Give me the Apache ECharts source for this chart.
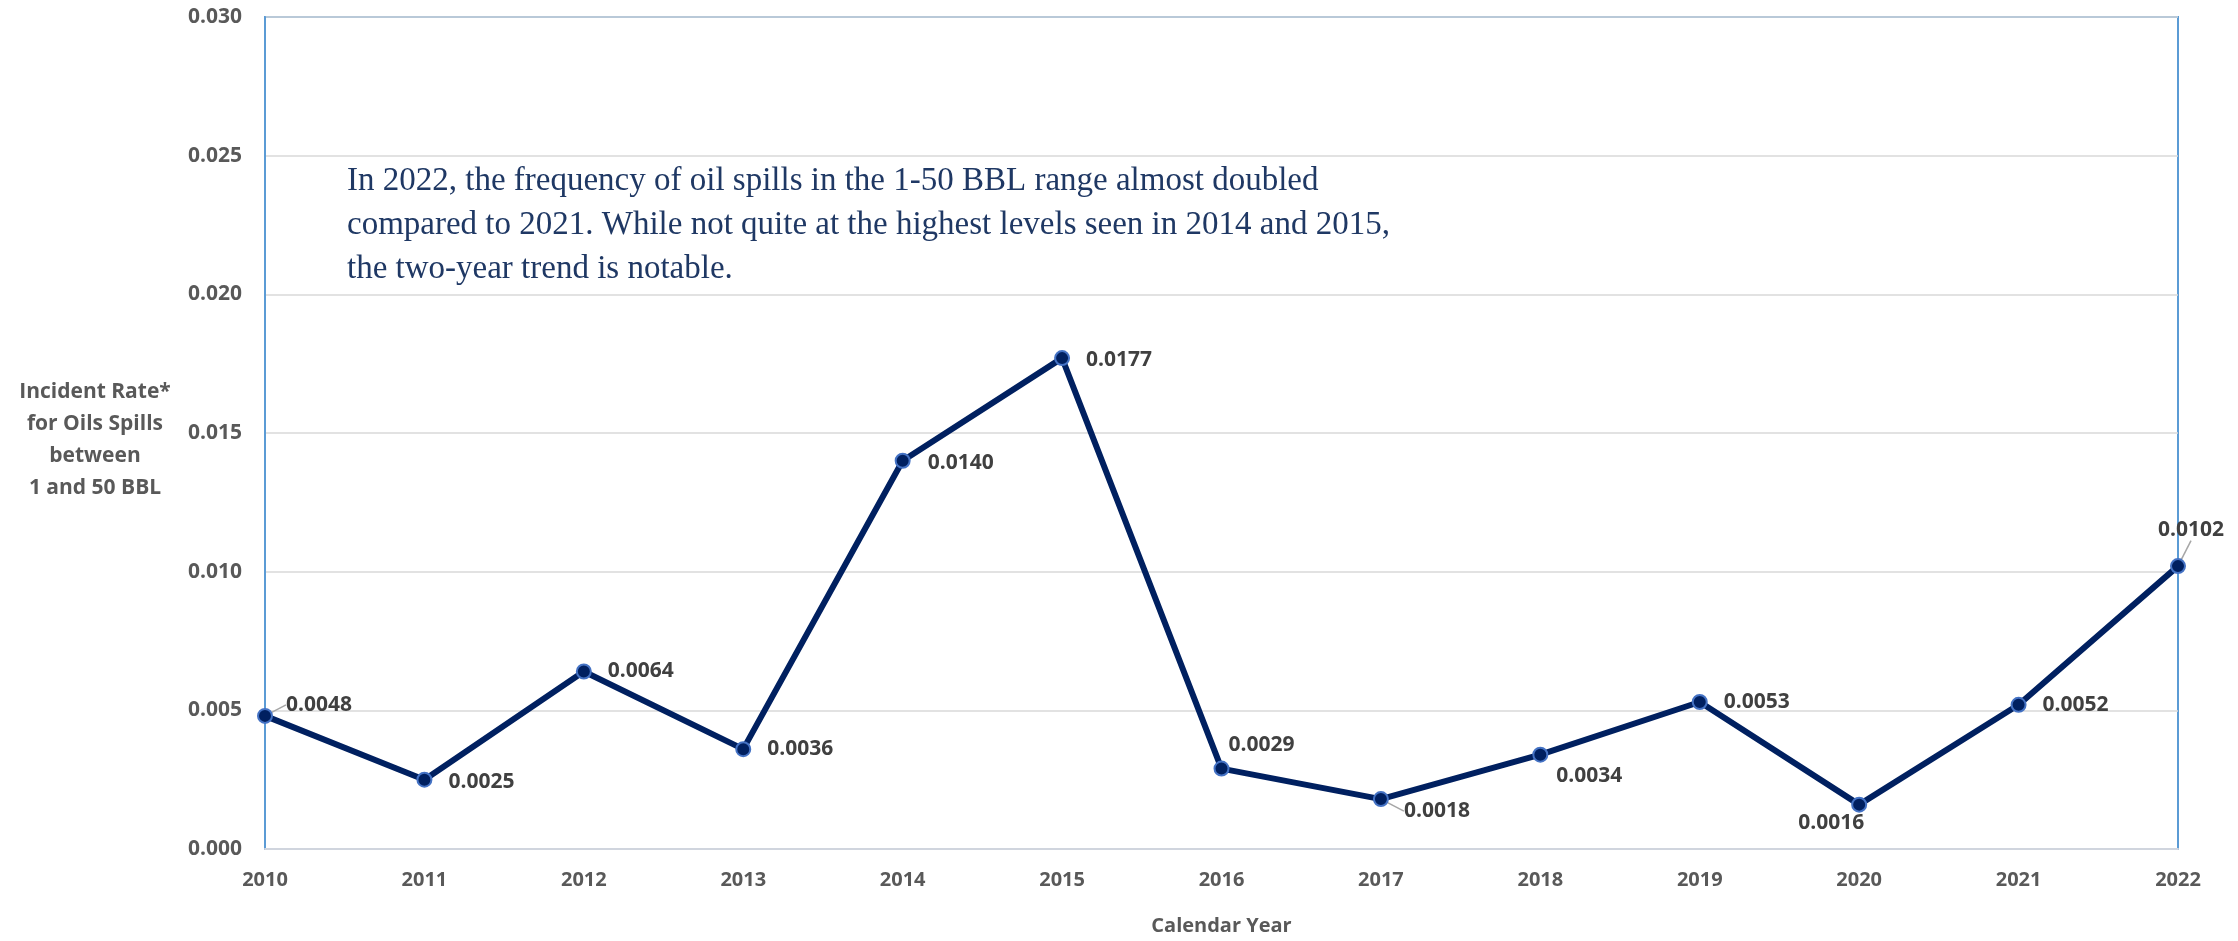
<!DOCTYPE html>
<html>
<head>
<meta charset="utf-8">
<style>html,body{margin:0;padding:0;background:#fff;}#chart{width:2238px;height:941px;}</style>
<script src="https://cdn.jsdelivr.net/npm/echarts@6/dist/echarts.min.js"></script>
</head>
<body>
<div id="chart"></div>
<script>
// ---- data ----
const years = ['2010','2011','2012','2013','2014','2015','2016','2017','2018','2019','2020','2021','2022'];
const incidentRates = [0.0048, 0.0025, 0.0064, 0.0036, 0.0140, 0.0177, 0.0029, 0.0018, 0.0034, 0.0053, 0.0016, 0.0052, 0.0102];
const yTicks = { min: 0, max: 0.03, step: 0.005 };
const yAxisTitle = 'Incident Rate*\nfor Oils Spills\nbetween\n1 and 50 BBL';
const xAxisTitle = 'Calendar Year';
const noteText = 'In 2022, the frequency of oil spills in the 1-50 BBL range almost doubled\ncompared to 2021. While not quite at the highest levels seen in 2014 and 2015,\nthe two-year trend is notable.';

// ---- label placement (style only: [left-edge dx, center dy] from the point) ----
const labelPlacement = [[20,-11],[23,2],[23,0],[23,0],[24,2],[23,2],[6,-24],[22,12],[15,21],[23,0],[-62,18],[23,0],[-21,-36]];
const guideIdx = [0, 7, 12];

const chart = echarts.init(document.getElementById('chart'));
const seriesData = incidentRates.map((v, i) => ({
  value: v,
  labelLine: { show: guideIdx.indexOf(i) >= 0 }
}));

const boldFont = { fontFamily: 'Open Sans', fontWeight: 'bold' };

chart.setOption({
  animation: false,
  backgroundColor: '#ffffff',
  grid: { left: 265, right: 60, top: 17, bottom: 82, show: true, borderColor: '#5B9BD5', borderWidth: 2, backgroundColor: 'transparent' },
  xAxis: {
    type: 'category',
    data: years,
    boundaryGap: false,
    axisLine: { show: true, lineStyle: { color: '#D0D5DE', width: 2 } },
    axisTick: { show: false },
    axisLabel: Object.assign({ color: '#595959', fontSize: 20, margin: 21 }, boldFont),
    splitLine: { show: false },
    name: xAxisTitle,
    nameLocation: 'middle',
    nameGap: 67,
    nameTextStyle: Object.assign({ color: '#595959', fontSize: 20 }, boldFont)
  },
  yAxis: {
    type: 'value',
    min: yTicks.min,
    max: yTicks.max,
    interval: yTicks.step,
    axisLine: { show: true, lineStyle: { color: '#5B9BD5', width: 2 } },
    axisTick: { show: false },
    axisLabel: Object.assign({ color: '#595959', fontSize: 21, margin: 23, formatter: v => v.toFixed(3) }, boldFont),
    splitLine: { show: true, lineStyle: { color: '#D9D9D9', width: 1.5 } }
  },
  graphic: [
    {
      type: 'text',
      x: 95, y: 440,
      style: Object.assign({
        text: yAxisTitle, fill: '#595959', fontSize: 21,
        lineHeight: 32, align: 'center', verticalAlign: 'middle'
      }, boldFont)
    },
    {
      type: 'text',
      x: 347, y: 159,
      style: {
        text: noteText, fill: '#1F3864', fontFamily: 'Liberation Serif', fontSize: 33,
        lineHeight: 44, align: 'left', verticalAlign: 'top'
      }
    }
  ],
  series: [{
    type: 'line',
    data: seriesData,
    symbol: 'circle',
    symbolSize: 14,
    lineStyle: { color: '#002060', width: 6 },
    itemStyle: { color: '#002060', borderColor: '#4472C4', borderWidth: 2 },
    label: Object.assign({
      show: true, position: 'right', distance: 0,
      color: '#404040', fontSize: 21,
      formatter: p => p.value.toFixed(4)
    }, boldFont),
    labelLine: { show: false, lineStyle: { color: '#A6A6A6', width: 1.5 } },
    labelLayout: p => ({ dx: labelPlacement[p.dataIndex][0] - 7, dy: labelPlacement[p.dataIndex][1] }),
    emphasis: { disabled: true }
  }]
});
</script>
</body>
</html>
